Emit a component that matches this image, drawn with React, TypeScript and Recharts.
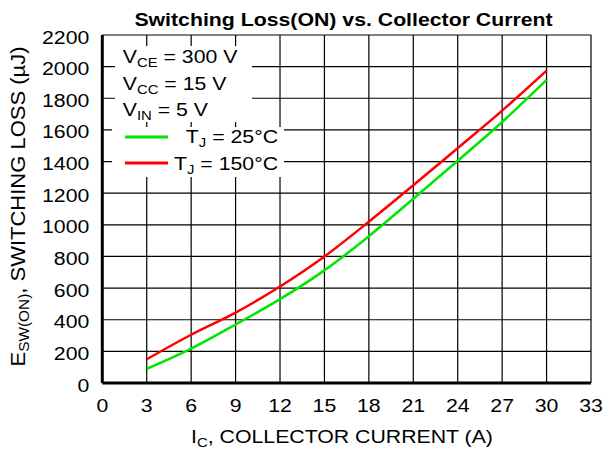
import React from 'react';
import { LineChart, Line, XAxis, YAxis, CartesianGrid } from 'recharts';

// collector current (A)
const CURRENT = [3, 6, 9, 12, 15, 18, 21, 24, 27, 30];
// switching loss E_SW(ON) in uJ
const LOSS_25C = [90, 218, 370, 530, 712, 928, 1165, 1405, 1650, 1916];
const LOSS_150C = [150, 305, 445, 610, 800, 1020, 1250, 1485, 1722, 1975];

const X_TICKS = [0, 3, 6, 9, 12, 15, 18, 21, 24, 27, 30, 33];
const Y_TICKS = [0, 200, 400, 600, 800, 1000, 1200, 1400, 1600, 1800, 2000, 2200];

const CONDITIONS = [
  { sym: 'V', sub: 'CE', value: ' = 300 V' },
  { sym: 'V', sub: 'CC', value: ' = 15 V' },
  { sym: 'V', sub: 'IN', value: ' = 5 V' },
];

const SERIES = [
  { key: 't25', label: ' = 25°C', color: '#00e600' },
  { key: 't150', label: ' = 150°C', color: '#ff0000' },
];

const data = CURRENT.map((ic, i) => ({ ic, t25: LOSS_25C[i], t150: LOSS_150C[i] }));

const FONT = '"Liberation Sans", Arial, Helvetica, sans-serif';
const STRETCH = 1.12;

const YTick = (props: any) => {
  const { x, y, payload } = props;
  return (
    <text
      transform={`translate(${x},${y + 8.5}) scale(${STRETCH},1)`}
      textAnchor="end"
      fontSize={19}
      fontFamily={FONT}
      fill="#000"
    >
      {payload.value}
    </text>
  );
};

const XTick = (props: any) => {
  const { x, y, payload } = props;
  return (
    <text
      transform={`translate(${x},${y + 29}) scale(${STRETCH},1)`}
      textAnchor="middle"
      fontSize={19}
      fontFamily={FONT}
      fill="#000"
    >
      {payload.value}
    </text>
  );
};

export default function App() {
  return (
    <div style={{ position: 'absolute', left: 0, top: 0, width: 607, height: 459, background: '#fff' }}>
      <LineChart width={607} height={459} data={data} margin={{ top: 35, right: 16, bottom: 0, left: 0 }}>
        <CartesianGrid stroke="#000" strokeWidth={1.2} />
        <XAxis
          dataKey="ic"
          type="number"
          domain={[0, 33]}
          ticks={X_TICKS}
          interval={0}
          height={76}
          tickLine={false}
          tickSize={0}
          tickMargin={0}
          axisLine={{ stroke: '#000', strokeWidth: 3 }}
          tick={<XTick />}
        />
        <YAxis
          type="number"
          domain={[0, 2200]}
          ticks={Y_TICKS}
          interval={0}
          width={102.3}
          tickLine={false}
          tickSize={0}
          tickMargin={13}
          axisLine={{ stroke: '#000', strokeWidth: 3 }}
          tick={<YTick />}
        />
        {SERIES.map((s) => (
          <Line
            key={s.key}
            type="monotone"
            dataKey={s.key}
            stroke={s.color}
            strokeWidth={2.5}
            dot={false}
            isAnimationActive={false}
          />
        ))}
      </LineChart>

      <svg
        width={607}
        height={459}
        style={{ position: 'absolute', left: 0, top: 0, pointerEvents: 'none' }}
        fontFamily={FONT}
        fill="#000"
      >
        {/* title */}
        <text
          transform={`translate(343.5,26) scale(${STRETCH},1)`}
          textAnchor="middle"
          fontSize={19}
          fontWeight="bold"
        >
          Switching Loss(ON) vs. Collector Current
        </text>

        {/* x axis label */}
        <text transform={`translate(342,443) scale(${STRETCH},1)`} textAnchor="middle" fontSize={19}>
          <tspan>I</tspan>
          <tspan fontSize={13.3} dy={4}>C</tspan>
          <tspan dy={-4}>, COLLECTOR CURRENT (A)</tspan>
        </text>

        {/* y axis label */}
        <text transform="translate(25,206.5) rotate(-90) scale(1.1,1)" textAnchor="middle" fontSize={20}>
          <tspan>E</tspan>
          <tspan fontSize={14} dy={4}>SW(ON)</tspan>
          <tspan dy={-4}>, SWITCHING LOSS (µJ)</tspan>
        </text>

        {/* legend / test conditions */}
        <rect x={115} y={46} width={137} height={76} fill="#fff" />
        <rect x={112} y={127} width={172} height={50} fill="#fff" />
        {CONDITIONS.map((c, i) => (
          <text
            key={c.sub}
            transform={`translate(122.7,${63.3 + i * 26.4}) scale(${STRETCH},1)`}
            fontSize={19}
          >
            <tspan>{c.sym}</tspan>
            <tspan fontSize={13.3} dy={4}>{c.sub}</tspan>
            <tspan dy={-4}>{c.value}</tspan>
          </text>
        ))}
        {SERIES.map((s, i) => (
          <g key={s.key}>
            <line x1={125} x2={168} y1={137 + i * 26} y2={137 + i * 26} stroke={s.color} strokeWidth={3} />
            <text
              transform={`translate(278,${142.7 + i * 27.3}) scale(${STRETCH},1)`}
              textAnchor="end"
              fontSize={19}
            >
              <tspan>T</tspan>
              <tspan fontSize={13.3} dy={4}>J</tspan>
              <tspan dy={-4}>{s.label}</tspan>
            </text>
          </g>
        ))}
      </svg>
    </div>
  );
}
